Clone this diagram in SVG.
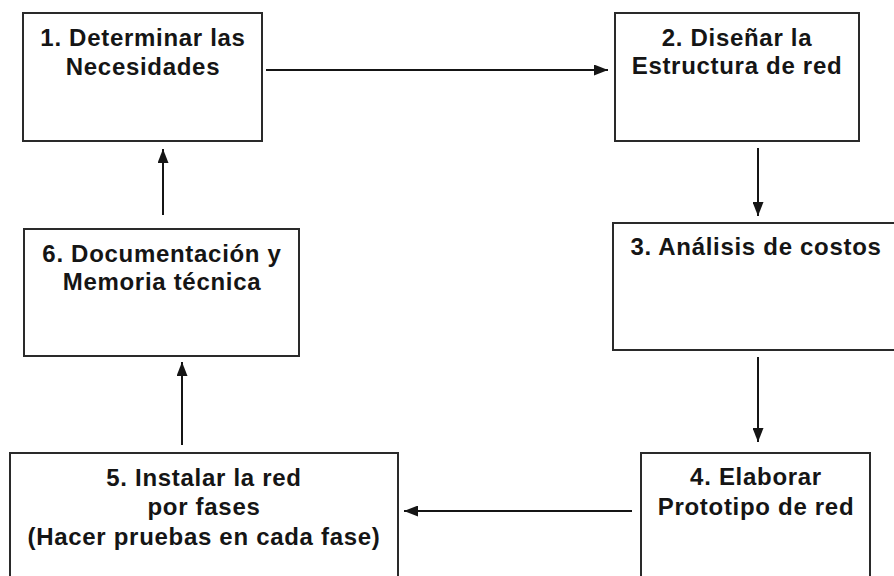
<svg xmlns="http://www.w3.org/2000/svg" width="894" height="576" viewBox="0 0 894 576">
<defs>
<style>
.box{fill:#fff;stroke:#2a2a2a;stroke-width:2}
.t{font-family:"Liberation Sans",Arial,sans-serif;font-weight:bold;font-size:24px;letter-spacing:0.7px;fill:#151515;text-anchor:middle}
.c{stroke:#151515;stroke-width:2;fill:none;marker-end:url(#ah)}
</style>
<marker id="ah" markerUnits="userSpaceOnUse" markerWidth="14" markerHeight="11" refX="14" refY="5.5" orient="auto">
<path d="M0,0 L14,5.5 L0,11 z" fill="#151515"/>
</marker>
</defs>
<rect width="894" height="576" fill="#fff"/>
<g id="n1">
<rect class="box" x="23" y="13" width="239" height="128"/>
<text class="t" x="143" y="46">1. Determinar las</text>
<text class="t" x="143" y="75">Necesidades</text>
</g>
<g id="n2">
<rect class="box" x="615" y="13" width="244" height="128"/>
<text class="t" x="737" y="46">2. Diseñar la</text>
<text class="t" x="737" y="74">Estructura de red</text>
</g>
<g id="n3">
<rect class="box" x="613" y="223" width="282" height="127"/>
<text class="t" x="756" y="255">3. Análisis de costos</text>
</g>
<g id="n4">
<rect class="box" x="641" y="453" width="229" height="130"/>
<text class="t" x="756" y="485">4. Elaborar</text>
<text class="t" x="756" y="515">Prototipo de red</text>
</g>
<g id="n5">
<rect class="box" x="10" y="453" width="388" height="130"/>
<text class="t" x="204" y="486">5. Instalar la red</text>
<text class="t" x="204" y="515">por fases</text>
<text class="t" x="204" y="545">(Hacer pruebas en cada fase)</text>
</g>
<g id="n6">
<rect class="box" x="24" y="229" width="275" height="127"/>
<text class="t" x="162" y="262">6. Documentación y</text>
<text class="t" x="162" y="290">Memoria técnica</text>
</g>
<g id="connectors">
<line class="c" x1="266" y1="70" x2="608" y2="70"/>
<line class="c" x1="758" y1="148" x2="758" y2="216"/>
<line class="c" x1="758" y1="357" x2="758" y2="442"/>
<line class="c" x1="632" y1="511" x2="404" y2="511"/>
<line class="c" x1="182" y1="445" x2="182" y2="362"/>
<line class="c" x1="163" y1="215" x2="163" y2="149"/>
</g>
</svg>
